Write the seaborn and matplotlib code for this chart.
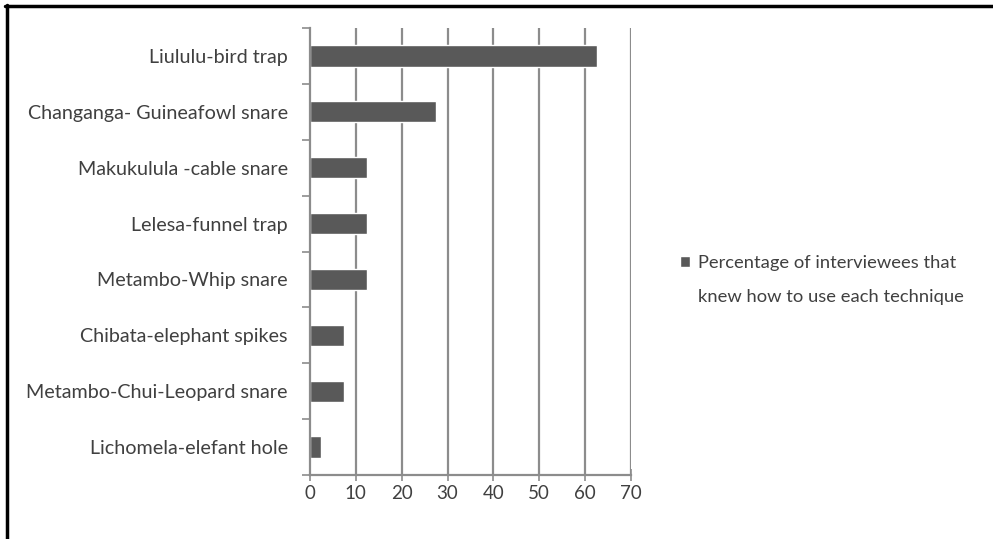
import matplotlib
matplotlib.use("Agg")
import matplotlib.pyplot as plt
from matplotlib.lines import Line2D
from matplotlib.ticker import FixedLocator
import seaborn as sns
import pandas as pd

# Hunting techniques and share of interviewees who knew how to use them
techniques = [
    "Liululu-bird trap",
    "Changanga- Guineafowl snare",
    "Makukulula -cable snare",
    "Lelesa-funnel trap",
    "Metambo-Whip snare",
    "Chibata-elephant spikes",
    "Metambo-Chui-Leopard snare",
    "Lichomela-elefant hole",
]
percentages = [62.5, 27.5, 12.5, 12.5, 12.5, 7.5, 7.5, 2.5]
x_ticks = [0, 10, 20, 30, 40, 50, 60, 70]
series_label = ["Percentage of interviewees that", "knew how to use each technique"]

df = pd.DataFrame({"technique": techniques, "percent": percentages})

sns.set_theme(style="white")
plt.rcParams["font.family"] = ["Lato", "DejaVu Sans"]

text_color = "#404040"
grid_color = "#8c8c8c"
bar_color = "#595959"

fig = plt.figure(figsize=(9.93, 5.39), dpi=100)
ax = fig.add_axes([310 / 993, 1 - 475 / 539, 321 / 993, 447 / 539])

sns.barplot(data=df, x="percent", y="technique", order=techniques,
            color=bar_color, width=0.38, orient="h", ax=ax,
            label=series_label[0], saturation=1, zorder=3, legend=False)
if ax.get_legend() is not None:
    ax.get_legend().remove()

ax.set_xlim(0, 70)
ax.set_ylim(len(techniques) - 0.5, -0.5)
ax.xaxis.set_major_locator(FixedLocator(x_ticks))
ax.set_xticklabels([str(t) for t in x_ticks])
ax.set_xlabel("")
ax.set_ylabel("")

# vertical gridlines
for t in x_ticks[1:]:
    ax.axvline(t, color=grid_color, lw=1.6, zorder=1)

# axis lines
for side in ["top", "right"]:
    ax.spines[side].set_visible(False)
for side in ["left", "bottom"]:
    ax.spines[side].set_color(grid_color)
    ax.spines[side].set_linewidth(1.6)
    ax.spines[side].set_zorder(4)

# category ticks sit between the bars
ax.yaxis.set_minor_locator(FixedLocator([i - 0.5 for i in range(len(techniques) + 1)]))
ax.tick_params(axis="y", which="major", length=0, pad=16, labelsize=14.2,
               labelcolor=text_color)
ax.tick_params(axis="y", which="minor", length=6, width=1.2, color=grid_color,
               direction="out", left=True)
ax.tick_params(axis="x", which="major", length=9, width=1.2, color=grid_color,
               direction="inout", bottom=True, pad=3, labelsize=13.5,
               labelcolor=text_color)

# legend: marker beside the first line, wrapped second line below
handles, labels = ax.get_legend_handles_labels()
leg = fig.legend(handles, labels, loc="center left",
                 bbox_to_anchor=(663 / 993, 1 - 263 / 539),
                 frameon=False, fontsize=13.2, handlelength=0.55,
                 handleheight=0.55, handletextpad=0.45)
for txt in leg.get_texts():
    txt.set_color(text_color)

fig.canvas.draw()
first = leg.get_texts()[0].get_window_extent(fig.canvas.get_renderer())
fig.text(first.x0 / fig.bbox.width, 1 - 297 / 539, series_label[1],
         fontsize=13.2, color=text_color, ha="left", va="center")

# black frame along the top and left edges
fig.add_artist(Line2D([5 / 993, 1], [1 - 5.5 / 539, 1 - 5.5 / 539],
                      transform=fig.transFigure, color="black", lw=2.5))
fig.add_artist(Line2D([6.5 / 993, 6.5 / 993], [0, 1 - 4.5 / 539],
                      transform=fig.transFigure, color="black", lw=2.5))

fig.savefig("out.png", dpi=100, facecolor="white")
